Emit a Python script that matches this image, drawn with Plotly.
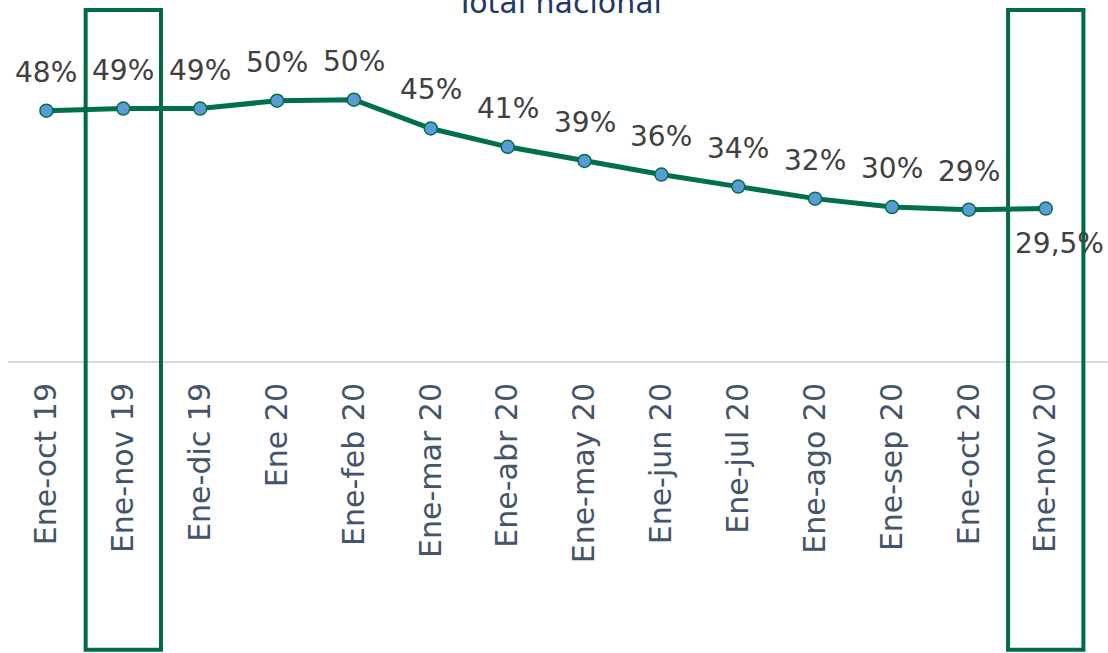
import plotly.graph_objects as go

categories = ["Ene-oct 19", "Ene-nov 19", "Ene-dic 19", "Ene 20", "Ene-feb 20", "Ene-mar 20",
              "Ene-abr 20", "Ene-may 20", "Ene-jun 20", "Ene-jul 20", "Ene-ago 20", "Ene-sep 20",
              "Ene-oct 20", "Ene-nov 20"]
values = [48.0, 48.4, 48.4, 49.9, 50.1, 44.6, 41.1, 38.4, 35.8, 33.5, 31.2, 29.6, 29.1, 29.3]
labels = ["48%", "49%", "49%", "50%", "50%", "45%", "41%", "39%", "36%", "34%", "32%", "30%",
          "29%", "29,5%"]
highlighted = ["Ene-nov 19", "Ene-nov 20"]
title_text = "Total nacional"

GREEN = "#00704A"
FONT = "DejaVu Sans"

fig = go.Figure()
fig.add_trace(go.Scatter(
    x=list(range(len(categories))), y=values, mode="lines+markers",
    line=dict(color=GREEN, width=5),
    marker=dict(size=13, color="#5B9BD5", line=dict(color=GREEN, width=1.5)),
    hoverinfo="skip", showlegend=False,
))

annotations = []
for i, (v, lab) in enumerate(zip(values, labels)):
    if i == len(values) - 1:
        annotations.append(dict(x=i, y=v, xref="x", yref="y", text=lab, showarrow=False,
                                yanchor="top", xanchor="center", xshift=14, yshift=-16,
                                font=dict(family=FONT, size=28, color="#404040")))
    else:
        annotations.append(dict(x=i, y=v, xref="x", yref="y", text=lab, showarrow=False,
                                yanchor="bottom", xanchor="center", yshift=20,
                                font=dict(family=FONT, size=28, color="#404040")))

annotations.append(dict(x=0.5, y=1.055, xref="paper", yref="paper", text=title_text,
                        showarrow=False, xanchor="center", yanchor="bottom",
                        font=dict(family=FONT, size=30, color="#1F3864")))

shapes = []
for h in highlighted:
    idx = categories.index(h)
    shapes.append(dict(type="rect", xref="x", yref="paper", x0=idx - 0.49, x1=idx + 0.49,
                       y0=-0.894, y1=1.093, line=dict(color="#006B45", width=4),
                       fillcolor="rgba(0,0,0,0)", layer="above"))

fig.update_layout(
    width=1108, height=653,
    margin=dict(l=8, r=0, t=40, b=291, pad=0),
    paper_bgcolor="white", plot_bgcolor="white",
    xaxis=dict(range=[-0.5, 13.81], tickmode="array", tickvals=list(range(len(categories))),
               ticktext=categories, tickangle=-90, showgrid=False, zeroline=False,
               showline=False, ticks="", ticklabelstandoff=14,
               tickfont=dict(family=FONT, size=30, color="#44546A")),
    yaxis=dict(range=[0, 61.5], showgrid=False, zeroline=True, zerolinecolor="#D9D9D9",
               zerolinewidth=1.5, showticklabels=False, ticks="", showline=False),
    annotations=annotations, shapes=shapes,
)

fig.write_html("out.html", config={"displayModeBar": False},
               post_script="document.body.style.margin='0';")
